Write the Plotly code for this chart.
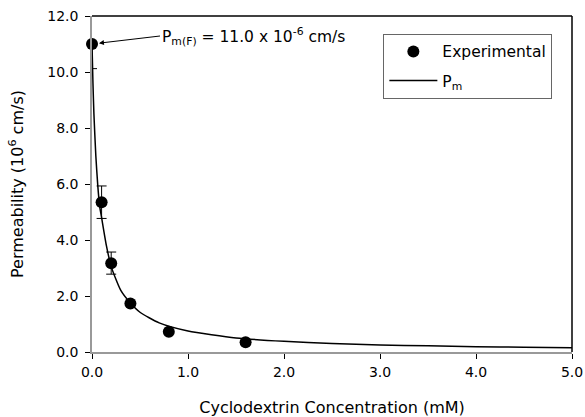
import plotly.graph_objects as go

# Experimental data
conc = [0.0, 0.1, 0.2, 0.4, 0.8, 1.6]
perm = [11.0, 5.35, 3.17, 1.73, 0.72, 0.35]
err_plus = [0.0, 0.58, 0.40, 0.0, 0.0, 0.0]
err_minus = [0.88, 0.58, 0.39, 0.0, 0.0, 0.0]

# Fitted curve
curve_c = [0.0, 0.01, 0.02, 0.04, 0.06, 0.08, 0.1, 0.15, 0.2, 0.3, 0.4, 0.5,
           0.7, 1.0, 1.5, 2.0, 2.5, 3.0, 3.5, 4.0, 4.5, 5.0]
curve_p = [11.0, 9.6, 8.5, 7.0, 5.95, 5.2, 4.8, 3.8, 3.05, 2.2, 1.75, 1.42,
           1.04, 0.75, 0.50, 0.38, 0.30, 0.25, 0.22, 0.19, 0.17, 0.15]

x_ticks = [0, 1, 2, 3, 4, 5]
y_ticks = [0, 2, 4, 6, 8, 10, 12]

font = "DejaVu Sans"

fig = go.Figure()
fig.add_trace(go.Scatter(
    x=curve_c, y=curve_p, mode="lines", name="P<sub>m</sub>",
    legendgroup="b", legendrank=2,
    line=dict(color="black", width=1.5, shape="spline", smoothing=0.6),
    cliponaxis=False,
))
fig.add_trace(go.Scatter(
    x=conc, y=perm, mode="markers", name="Experimental",
    legendgroup="a", legendrank=1,
    marker=dict(color="black", size=12),
    error_y=dict(type="data", array=err_plus, arrayminus=err_minus,
                 color="black", thickness=1, width=5),
    cliponaxis=False,
))

fig.update_layout(
    width=585, height=417,
    margin=dict(l=92, r=13, t=16, b=65),
    paper_bgcolor="white", plot_bgcolor="white",
    font=dict(family=font, size=14, color="black"),
    showlegend=True,
    legend=dict(x=0.607, y=0.947, xanchor="left", yanchor="top",
                bordercolor="#666666", borderwidth=1, bgcolor="white",
                font=dict(family=font, size=15.5), traceorder="grouped",
                tracegroupgap=6, itemwidth=48),
    xaxis=dict(range=[0, 5], tickvals=x_ticks,
               ticktext=[f"{v:.1f}" for v in x_ticks],
               showgrid=False, zeroline=False, automargin=False,
               showline=True, linecolor="#999999", linewidth=1.5,
               ticks="outside", ticklen=5, tickcolor="black", tickwidth=1,
               ticklabelstandoff=1,
               title=dict(text="Cyclodextrin Concentration (mM)",
                          font=dict(size=16), standoff=23)),
    yaxis=dict(range=[0, 12], tickvals=y_ticks,
               ticktext=[f"{v:.1f}" for v in y_ticks],
               showgrid=False, zeroline=False, automargin=False,
               showline=True, linecolor="#999999", linewidth=1.5,
               ticks="outside", ticklen=5, tickcolor="black", tickwidth=1,
               ticklabelstandoff=4,
               title=dict(text="Permeability (10<sup>6</sup> cm/s)",
                          font=dict(size=16), standoff=20)),
)

# top and right black frame lines
fig.add_shape(type="line", xref="paper", yref="paper", x0=0, x1=1, y0=1, y1=1,
              line=dict(color="black", width=1.5))
fig.add_shape(type="line", xref="paper", yref="paper", x0=1, x1=1, y0=0, y1=1,
              line=dict(color="black", width=1.5))

fig.add_annotation(
    x=conc[0], y=perm[0], xref="x", yref="y",
    text="P<sub>m(F)</sub> = 11.0 x 10<sup>-6</sup> cm/s",
    showarrow=True, arrowhead=2, arrowsize=1, arrowwidth=1, arrowcolor="black",
    ax=68, ay=-8, axref="pixel", ayref="pixel", xanchor="left", standoff=7,
    font=dict(family=font, size=15.5),
)

fig.write_html("out.html")
